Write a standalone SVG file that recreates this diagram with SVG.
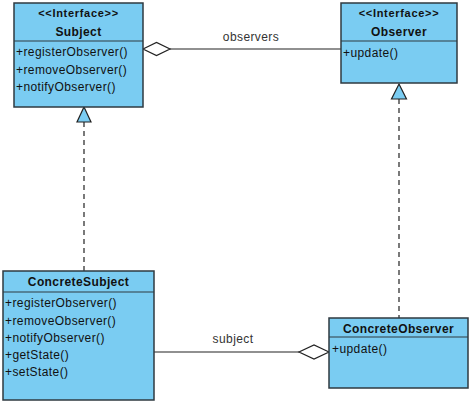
<svg xmlns="http://www.w3.org/2000/svg" width="473" height="404" viewBox="0 0 473 404">
<style>
.box{fill:#7ACCF2;stroke:#2f3a40;stroke-width:1.5}
.sep{stroke:#2f3a40;stroke-width:1.2}
.st{font-family:"Liberation Sans",Arial,sans-serif;font-weight:bold;font-size:11px;letter-spacing:0.7px;fill:#111;text-anchor:middle}
.nm{font-family:"Liberation Sans",Arial,sans-serif;font-weight:bold;font-size:12px;letter-spacing:0.4px;fill:#111;text-anchor:middle}
.op{font-family:"Liberation Sans",Arial,sans-serif;font-size:12px;letter-spacing:0.4px;fill:#111}
.lbl{font-family:"Liberation Sans",Arial,sans-serif;font-size:12px;letter-spacing:0.4px;fill:#333;text-anchor:middle}
.ln{stroke:#222;stroke-width:1.2;fill:none}
.dash{stroke:#222;stroke-width:1.2;fill:none;stroke-dasharray:5 4}
.dia{fill:#fff;stroke:#222;stroke-width:1.2}
.tri{fill:#7ACCF2;stroke:#222;stroke-width:1.2}
</style>
<g id="connectors">
<line class="ln" x1="170" y1="49" x2="341" y2="49"/>
<polygon class="dia" points="143,49 156.5,42.5 170,49 156.5,55.5"/>
<text class="lbl" x="251" y="41">observers</text>
<line class="ln" x1="154" y1="352" x2="299" y2="352"/>
<polygon class="dia" points="329,352 314,345 299,352 314,359"/>
<text class="lbl" x="233" y="343">subject</text>
<line class="dash" x1="84" y1="122" x2="84" y2="271"/>
<polygon class="tri" points="84,107 91,122 77,122"/>
<line class="dash" x1="399" y1="99" x2="399" y2="318"/>
<polygon class="tri" points="399,84 406.5,99 391.5,99"/>
</g>
<g id="Subject">
<rect class="box" x="14" y="3" width="129" height="104"/>
<line class="sep" x1="14" y1="41" x2="143" y2="41"/>
<text class="st" x="78.5" y="17">&lt;&lt;Interface&gt;&gt;</text>
<text class="nm" x="78.5" y="36">Subject</text>
<text class="op" x="16" y="56">+registerObserver()</text>
<text class="op" x="16" y="74">+removeObserver()</text>
<text class="op" x="16" y="91">+notifyObserver()</text>
</g>
<g id="Observer">
<rect class="box" x="341" y="3" width="116" height="80"/>
<line class="sep" x1="341" y1="41" x2="457" y2="41"/>
<text class="st" x="399" y="17">&lt;&lt;Interface&gt;&gt;</text>
<text class="nm" x="399" y="36">Observer</text>
<text class="op" x="343" y="57">+update()</text>
</g>
<g id="ConcreteSubject">
<rect class="box" x="3" y="271" width="151" height="129"/>
<line class="sep" x1="3" y1="292" x2="154" y2="292"/>
<text class="nm" x="78.5" y="286">ConcreteSubject</text>
<text class="op" x="5" y="307">+registerObserver()</text>
<text class="op" x="5" y="325">+removeObserver()</text>
<text class="op" x="5" y="342">+notifyObserver()</text>
<text class="op" x="5" y="359">+getState()</text>
<text class="op" x="5" y="376">+setState()</text>
</g>
<g id="ConcreteObserver">
<rect class="box" x="329" y="318" width="139" height="70"/>
<line class="sep" x1="329" y1="337" x2="468" y2="337"/>
<text class="nm" x="398.5" y="333">ConcreteObserver</text>
<text class="op" x="332" y="353">+update()</text>
</g>
</svg>
